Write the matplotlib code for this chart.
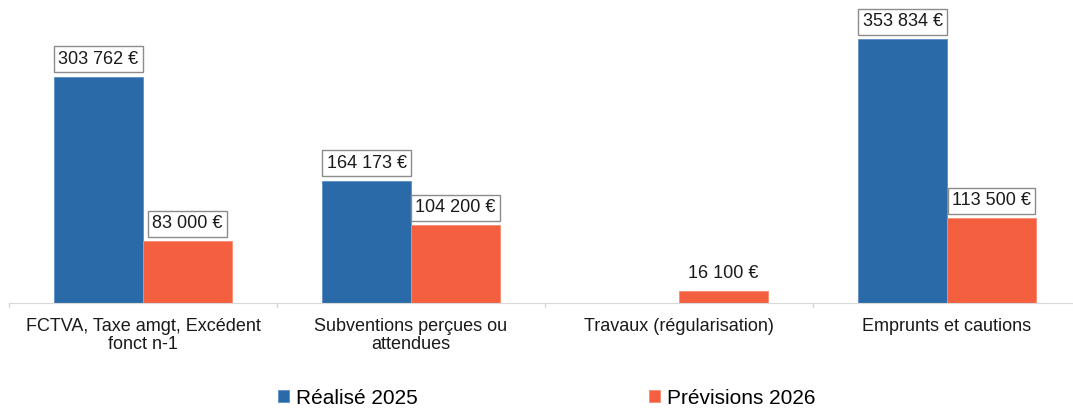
import matplotlib
matplotlib.use("Agg")
import matplotlib.pyplot as plt
import numpy as np

categories = ["FCTVA, Taxe amgt, Excédent\nfonct n-1", "Subventions perçues ou\nattendues",
              "Travaux (régularisation)", "Emprunts et cautions"]
realise_2025 = [303762, 164173, 0, 353834]
previsions_2026 = [83000, 104200, 16100, 113500]
series_names = ["Réalisé 2025", "Prévisions 2026"]

plt.rcParams['font.family'] = ['Liberation Sans', 'DejaVu Sans']

W, H = 1073, 409
fig = plt.figure(figsize=(W / 100, H / 100), dpi=100)
left, right = 9, 1081
bottom_px, top_px = 303, 5
ax = fig.add_axes([left / W, (H - bottom_px) / H, (right - left) / W, (bottom_px - top_px) / H])

blue = "#2B6AA8"
orange = "#F4603F"
x = np.arange(len(categories))
bw = 0.332
b1 = ax.bar(x - bw / 2, realise_2025, bw, color=blue, edgecolor="#5b8fc4", linewidth=0.6, label=series_names[0])
b2 = ax.bar(x + bw / 2, previsions_2026, bw, color=orange, edgecolor="#f88c72", linewidth=0.6, label=series_names[1])

def fmt(v):
    return f"{v:,}".replace(",", " ") + " €"

for bars, vals in ((b1, realise_2025), (b2, previsions_2026)):
    for rect, v in zip(bars, vals):
        if v == 0:
            continue
        boxed = v > 20000
        bbox = dict(boxstyle="square,pad=0.25", fc="white", ec="#8c8c8c", lw=1.0) if boxed else None
        ax.annotate(fmt(v), (rect.get_x() + rect.get_width() / 2, v), xytext=(0, 6.5),
                    textcoords="offset points", ha="center", va="bottom", fontsize=13,
                    color="#1a1a1a", bbox=bbox)

ax.set_xlim(-0.5, len(categories) - 0.5)
ax.set_ylim(0, 400000)
for s in ["top", "right", "left"]:
    ax.spines[s].set_visible(False)
ax.spines["bottom"].set_color("#d9d9d9")
ax.set_yticks([])
ax.set_xticks(x)
ax.set_xticklabels(categories, fontsize=13, color="#1a1a1a", linespacing=1.05)
ax.tick_params(axis="x", length=0, pad=11)
for b in np.arange(-0.5, len(categories) + 0.5, 1):
    ax.plot([b, b], [0, -6000], color="#d9d9d9", lw=1, clip_on=False)

leg = fig.legend(handles=[b1, b2], labels=series_names, loc="center", ncol=2,
                 bbox_to_anchor=(547 / W, 1 - 398 / H), frameon=False, fontsize=15,
                 handlelength=0.53, handleheight=0.53, handletextpad=0.34, columnspacing=11.1)

fig.savefig("out.png", dpi=100)
